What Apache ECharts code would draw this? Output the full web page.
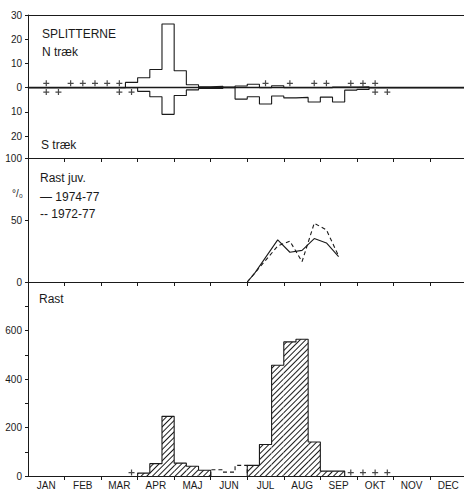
<!DOCTYPE html>
<html>
<head>
<meta charset="utf-8">
<title>Splitterne</title>
<script src="https://cdn.jsdelivr.net/npm/echarts@6/dist/echarts.min.js"></script>
<style>
  html, body { margin: 0; padding: 0; background: #fff; }
  #chart { width: 464px; height: 490px; }
</style>
</head>
<body>
<div id="chart"></div>
<script>
// maaneder, 3 dekader (10-dages perioder) pr. maaned -> 36 dekader
const months = ['JAN', 'FEB', 'MAR', 'APR', 'MAJ', 'JUN', 'JUL', 'AUG', 'SEP', 'OKT', 'NOV', 'DEC']

// øverst: N træk / S træk pr. dekade
const nTraek = [0, 0, 0, 0, 0, 0, 0, 0, 2.2, 4.1, 7.5, 26.3, 7, 1.2, 0.4, 0.6, 0.3, 0.7,
                1.4, 0, 0.8, 0, 0, 0, 0, 0.3, 0.3, 0.4, 0, 0, 0, 0, 0, 0, 0, 0]
const sTraek = [0, 0, 0, 0, 0, 0, 0, 0, 0, 1.5, 3.7, 11, 3.2, 0.9, 0.3, 0.3, 0, 4.7,
                3.7, 6.7, 3.4, 4.2, 4, 5.9, 3.9, 5.9, 1, 0.7, 0, 0, 0, 0, 0, 0, 0, 0]
// dekader med "+" (faa fugle)
const nPlus = [1, 3, 4, 5, 6, 7, 19, 21, 23, 24, 26, 27, 28]
const sPlus = [1, 2, 7, 8, 28, 29]

// midt: Rast juv. i %, [dekade, %]
const juv7477 = [[18, 0], [18.6, 7], [20.5, 34], [21.5, 24], [22.5, 25.5], [23.5, 35], [24.5, 31.5], [25.5, 20.5]]
const juv7277 = [[18, 0], [18.6, 7], [20.5, 29], [21.5, 33], [22.5, 16.4], [23.5, 47.4], [24.5, 42], [25.5, 21]]

// nederst: Rast pr. dekade (null = ingen data)
const rast = [null, null, null, null, null, null, null, null, null, 12, 51, 246, 53, 40, 24, null, null, null,
              44, 130, 457, 553, 564, 140, 20, 20, null, null, null, null, null, null, null, null, null, null]
// usikre dekader (stiplet)
const rastUsikker = [null, null, null, null, null, null, null, null, null, null, null, null, null, null, null, 26, 16, 44,
                     null, null, null, null, null, null, null, null, null, null, null, null, null, null, null, null, null, null]
const rastPlus = [8, 26, 27, 28, 29]

const font = 'Liberation Sans, Arial, sans-serif'
const ink = '#1a1a1a'
const gridLeft = 28
const gridWidth = 438.5
const dekadWidth = gridWidth / 36
const plusSymbol = 'path://M4,0h2v4h4v2h-4v4h-2v-4h-4v-2h4z'

// trappekurve (histogram-omrids) ud fra dekade-værdier
const stepPoints = (arr, sign = 1) => {
    const pts = []
    arr.forEach((v, i) => {
        const prev = i > 0 ? arr[i - 1] : null
        if (v == null) {
            if (prev != null) {
                pts.push([i, 0])
                pts.push([i, null])
            }
            return
        }
        if (prev == null) pts.push([i, 0])
        pts.push([i, sign * v])
    })
    if (arr[arr.length - 1] != null) pts.push([arr.length, 0])
    return pts
}

const monthTicks = months.map((m, i) => i * 3)
const monthCenters = months.map((m, i) => i * 3 + 1.5)

const baseX = (gridIndex, position, extra) => Object.assign({
    gridIndex,
    type: 'value',
    min: 0,
    max: 36,
    interval: 3,
    position,
    axisLine: { show: true, onZero: false, lineStyle: { color: ink, width: 1 } },
    axisTick: { show: false },
    axisLabel: { show: false },
    splitLine: { show: false }
}, extra)

const baseY = (gridIndex, extra) => Object.assign({
    gridIndex,
    type: 'value',
    axisLine: { show: true, onZero: false, lineStyle: { color: ink, width: 1 } },
    axisTick: { show: true, length: 3, lineStyle: { color: ink } },
    axisLabel: { show: true, margin: 6, color: ink, fontFamily: font, fontSize: 10 },
    splitLine: { show: false }
}, extra)

const insideTicks = { show: true, inside: true, length: 4, lineStyle: { color: ink }, customValues: monthTicks.slice(1) }

const textEl = (text, x, y, size) => ({
    type: 'text',
    x,
    y,
    style: { text, font: size + 'px ' + font, fill: ink, verticalAlign: 'middle' }
})

const chart = echarts.init(document.getElementById('chart'), null, { renderer: 'svg' })

const option = {
    animation: false,
    backgroundColor: '#fff',
    grid: [
        { left: gridLeft, top: 15, width: gridWidth, height: 143, outerBoundsMode: 'none' },
        { left: gridLeft, top: 158, width: gridWidth, height: 124, outerBoundsMode: 'none' },
        { left: gridLeft, top: 282, width: gridWidth, height: 194, outerBoundsMode: 'none' }
    ],
    xAxis: [
        baseX(0, 'bottom', { axisLine: { show: true, onZero: true, lineStyle: { color: ink, width: 1.4 } } }),
        baseX(0, 'top'),
        baseX(1, 'bottom'),
        baseX(1, 'top', { axisTick: insideTicks }),
        baseX(2, 'bottom', {
            axisTick: { show: true, length: 4, lineStyle: { color: ink }, customValues: monthTicks.slice(1) },
            axisLabel: {
                show: true,
                margin: 4,
                color: ink,
                fontFamily: font,
                fontSize: 10,
                customValues: monthCenters,
                formatter: v => months[Math.round((v - 1.5) / 3)]
            }
        }),
        baseX(2, 'top', { axisTick: insideTicks })
    ],
    yAxis: [
        baseY(0, {
            min: -29,
            max: 30,
            axisTick: { show: true, length: 3, lineStyle: { color: ink }, customValues: [-20, -10, 0, 10, 20, 30] },
            axisLabel: {
                show: true, margin: 6, color: ink, fontFamily: font, fontSize: 10,
                customValues: [-20, -10, 0, 10, 20, 30],
                formatter: v => String(Math.abs(v))
            }
        }),
        baseY(1, { min: 0, max: 100, interval: 50 }),
        baseY(2, {
            min: 0,
            max: 800,
            axisTick: { show: true, length: 3, lineStyle: { color: ink }, customValues: [0, 100, 200, 300, 400, 500, 600, 700] },
            axisLabel: {
                show: true, margin: 6, color: ink, fontFamily: font, fontSize: 10,
                customValues: [0, 200, 400, 600]
            }
        })
    ],
    series: [
        // N træk / S træk
        {
            name: 'N træk', type: 'line', xAxisIndex: 0, yAxisIndex: 0, step: 'end',
            showSymbol: false, lineStyle: { color: ink, width: 1.1 },
            data: stepPoints(nTraek)
        },
        {
            name: 'S træk', type: 'line', xAxisIndex: 0, yAxisIndex: 0, step: 'end',
            showSymbol: false, lineStyle: { color: ink, width: 1.1 },
            data: stepPoints(sTraek, -1)
        },
        {
            type: 'scatter', xAxisIndex: 0, yAxisIndex: 0, symbol: plusSymbol, symbolSize: 6,
            itemStyle: { color: ink },
            data: nPlus.map(i => [i + 0.5, 1.8])
        },
        {
            type: 'scatter', xAxisIndex: 0, yAxisIndex: 0, symbol: plusSymbol, symbolSize: 6,
            itemStyle: { color: ink },
            data: sPlus.map(i => [i + 0.5, -1.8])
        },
        // Rast juv.
        {
            name: '1974-77', type: 'line', xAxisIndex: 2, yAxisIndex: 1,
            showSymbol: false, lineStyle: { color: ink, width: 1.1 },
            data: juv7477
        },
        {
            name: '1972-77', type: 'line', xAxisIndex: 2, yAxisIndex: 1,
            showSymbol: false, lineStyle: { color: ink, width: 1.1, type: [4, 3] },
            data: juv7277
        },
        // Rast
        {
            name: 'Rast', type: 'bar', xAxisIndex: 4, yAxisIndex: 2,
            barWidth: dekadWidth,
            itemStyle: {
                color: '#fff',
                decal: {
                    symbol: 'rect',
                    symbolSize: 1,
                    color: ink,
                    dashArrayX: [1, 0],
                    dashArrayY: [1, 3],
                    rotation: -Math.PI / 4
                }
            },
            data: rast.map((v, i) => (v == null ? null : [i + 0.5, v])).filter(d => d)
        },
        {
            type: 'line', xAxisIndex: 4, yAxisIndex: 2, step: 'end',
            showSymbol: false, lineStyle: { color: ink, width: 1.1 },
            data: stepPoints(rast)
        },
        {
            type: 'line', xAxisIndex: 4, yAxisIndex: 2, step: 'end',
            showSymbol: false, lineStyle: { color: ink, width: 1.1, type: [4, 3] },
            data: stepPoints(rastUsikker)
        },
        {
            type: 'scatter', xAxisIndex: 4, yAxisIndex: 2, symbol: plusSymbol, symbolSize: 6,
            itemStyle: { color: ink },
            data: rastPlus.map(i => [i + 0.5, 14])
        }
    ],
    graphic: [
        textEl('SPLITTERNE', 42, 34, 12),
        textEl('N træk', 42, 52, 12),
        textEl('S træk', 41, 145, 12),
        textEl('Rast juv.', 40, 178, 12),
        textEl('— 1974-77', 40, 197, 12),
        textEl('-- 1972-77', 40, 214, 12),
        textEl('°/₀', 12, 193, 10),
        textEl('Rast', 39, 299, 12)
    ]
}

chart.setOption(option)
</script>
</body>
</html>
